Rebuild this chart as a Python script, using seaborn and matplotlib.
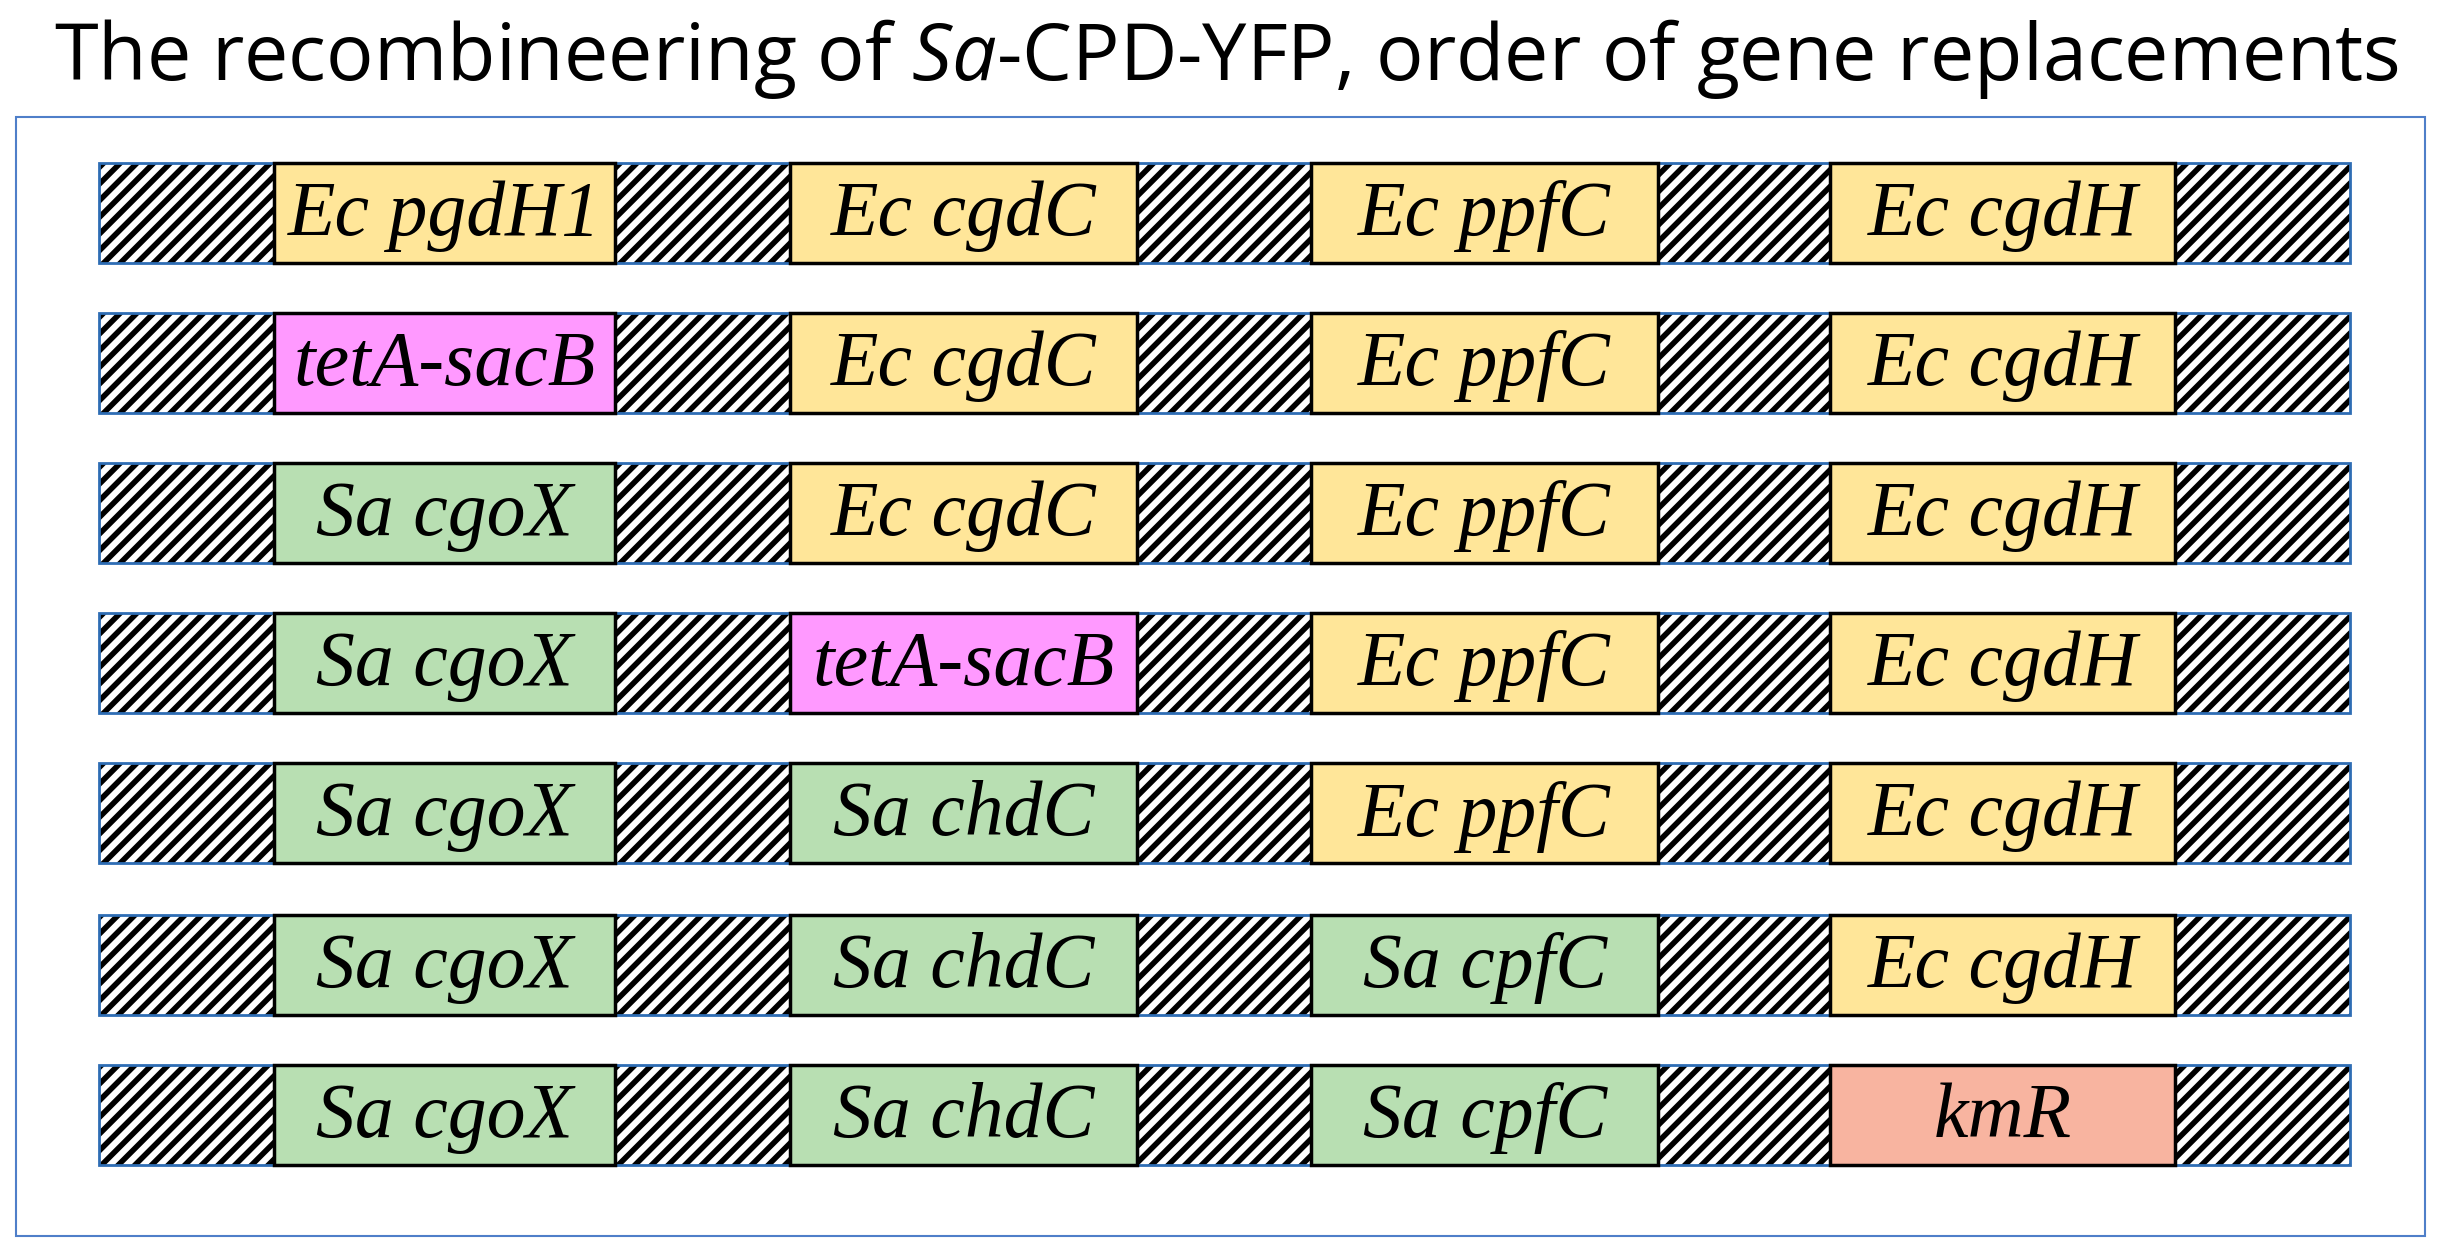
import matplotlib
matplotlib.use("Agg")
import matplotlib.pyplot as plt
import seaborn as sns

sns.set_theme(style="white")
plt.rcParams["font.family"] = ["Open Sans", "DejaVu Sans"]
plt.rcParams["mathtext.fontset"] = "custom"
plt.rcParams["mathtext.it"] = "Open Sans:italic"
plt.rcParams["mathtext.rm"] = "Open Sans"
plt.rcParams["hatch.linewidth"] = 4.0
plt.rcParams["hatch.color"] = "black"

# gene in each of the four slots, per step
slot1 = ["Ec pgdH1", "tetA-sacB", "Sa cgoX", "Sa cgoX", "Sa cgoX", "Sa cgoX", "Sa cgoX"]
slot2 = ["Ec cgdC", "Ec cgdC", "Ec cgdC", "tetA-sacB", "Sa chdC", "Sa chdC", "Sa chdC"]
slot3 = ["Ec ppfC", "Ec ppfC", "Ec ppfC", "Ec ppfC", "Ec ppfC", "Sa cpfC", "Sa cpfC"]
slot4 = ["Ec cgdH", "Ec cgdH", "Ec cgdH", "Ec cgdH", "Ec cgdH", "Ec cgdH", "kmR"]

def colour(name):
    if name.startswith("Ec"):
        return "#FFE699"
    if name.startswith("Sa"):
        return "#B8DFB2"
    if name == "tetA-sacB":
        return "#FF99FF"
    return "#F8B4A0"

# layout (in 1568x801 drawing units)
row_y = [136, 232, 328, 424, 520, 617, 713]
bar_h = 64
spacer_x = [(63, 112), (393, 112), (727, 111), (1060, 110), (1390, 112)]
gene_x = [(175, 218), (505, 222), (838, 222), (1170, 220)]

fig = plt.figure(figsize=(24.53, 12.53), dpi=100)
ax = fig.add_axes([0, 0, 1, 1])
ax.set_xlim(0, 1568)
ax.set_ylim(801, 0)
ax.axis("off")

ax.add_patch(plt.Rectangle((10, 75), 1540, 715, fill=False, ec="#4F7FC9", lw=1.5))

for i, y in enumerate(row_y):
    for left, w in spacer_x:
        ax.barh(y, w, left=left, height=bar_h, color="white", edgecolor="black",
                hatch="//", linewidth=0)
        ax.barh(y, w, left=left, height=bar_h, fill=False, edgecolor="#2E6DB4", linewidth=2)
    genes = [slot1[i], slot2[i], slot3[i], slot4[i]]
    for (left, w), g in zip(gene_x, genes):
        ax.barh(y, w, left=left, height=bar_h, color=colour(g), edgecolor="black", linewidth=2.5)
        ax.text(left + w / 2, y + 2, g, ha="center", va="center", fontsize=56,
                family=["Liberation Serif"], style="italic", color="black")

ax.text(784, 38, r"The recombineering of $\it{Sa}$-CPD-YFP, order of gene replacements",
        ha="center", va="center", fontsize=57, color="black")

fig.savefig("out.png", dpi=100)
